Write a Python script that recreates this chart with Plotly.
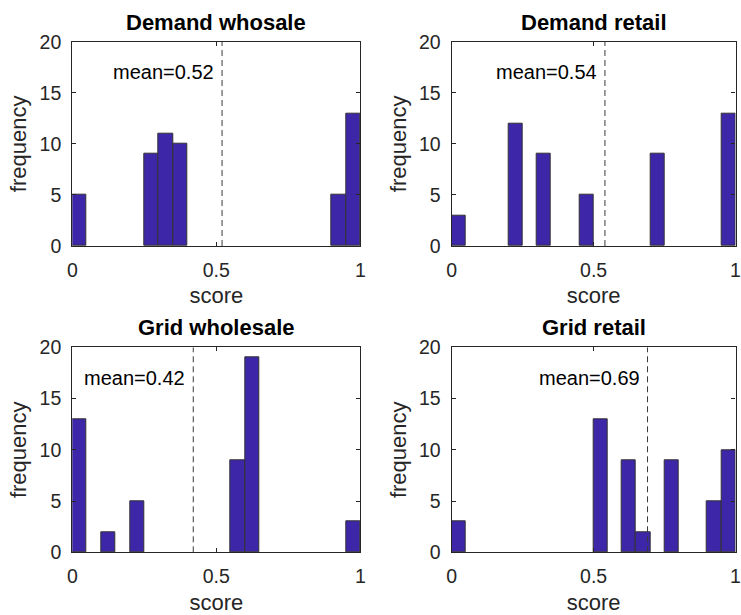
import numpy as np
import plotly.graph_objects as go

# Histogram counts per 0.05-wide score bin (20 bins from 0 to 1)
panel_titles = ["Demand whosale", "Demand retail", "Grid wholesale", "Grid retail"]

demand_wholesale = [5, 0, 0, 0, 0, 9, 11, 10, 0, 0, 0, 0, 0, 0, 0, 0, 0, 0, 5, 13]
demand_retail = [3, 0, 0, 0, 12, 0, 9, 0, 0, 5, 0, 0, 0, 0, 9, 0, 0, 0, 0, 13]
grid_wholesale = [13, 0, 2, 0, 5, 0, 0, 0, 0, 0, 0, 9, 19, 0, 0, 0, 0, 0, 0, 3]
grid_retail = [3, 0, 0, 0, 0, 0, 0, 0, 0, 0, 13, 0, 9, 2, 0, 9, 0, 0, 5, 10]

mean_scores = [0.52, 0.54, 0.42, 0.69]

x_tick_vals = [0, 0.5, 1]
x_tick_text = ["0", "0.5", "1"]
y_tick_vals = [0, 5, 10, 15, 20]

counts = [demand_wholesale, demand_retail, grid_wholesale, grid_retail]

W, H = 741, 615
BIN_W = 0.05
bin_centers = np.arange(20) * BIN_W + BIN_W / 2

BAR_COLOR = "rgb(62,38,168)"
AX_COLOR = "#262626"
FONT = "Liberation Sans, Arial, sans-serif"

# axes rectangles in pixels: (left, right, top, bottom)
boxes = [
    (72.3, 360.3, 41.7, 246.0),
    (451.7, 735.5, 41.7, 246.0),
    (72.3, 360.3, 347.3, 552.3),
    (451.7, 735.5, 347.3, 552.3),
]

fig = go.Figure()
layout = dict(
    width=W, height=H,
    margin=dict(l=0, r=0, t=0, b=0),
    paper_bgcolor="white", plot_bgcolor="white",
    showlegend=False, bargap=0,
    font=dict(family=FONT, color=AX_COLOR, size=19),
)

annotations = []
shapes = []
for i in range(4):
    k = "" if i == 0 else str(i + 1)
    xa, ya = "x" + k, "y" + k
    left, right, top, bottom = boxes[i]
    # empty bins are left undrawn so no edge outline sits on the baseline
    heights = [c if c > 0 else None for c in counts[i]]
    fig.add_trace(go.Bar(
        x=bin_centers, y=heights, width=BIN_W,
        marker=dict(color=BAR_COLOR, line=dict(color="#333333", width=1)),
        xaxis=xa, yaxis=ya, hoverinfo="x+y",
    ))
    common = dict(
        showline=True, linecolor=AX_COLOR, linewidth=1.2, mirror="ticks",
        ticks="inside", ticklen=4, tickcolor=AX_COLOR, tickwidth=1,
        showgrid=False, zeroline=False, automargin=False,
        ticklabeloverflow="allow",
        tickfont=dict(family=FONT, size=19.5, color=AX_COLOR),
    )
    layout["xaxis" + k] = dict(
        common, domain=[left / W, right / W], range=[0, 1],
        tickvals=x_tick_vals, ticktext=x_tick_text, anchor=ya,
        ticklabelstandoff=6,
        title=dict(text="score", font=dict(family=FONT, size=22, color=AX_COLOR), standoff=8),
    )
    layout["yaxis" + k] = dict(
        common, domain=[1 - bottom / H, 1 - top / H], range=[0, 20],
        tickvals=y_tick_vals, anchor=xa,
        ticklabelstandoff=6,
        title=dict(text="frequency", font=dict(family=FONT, size=22, color=AX_COLOR), standoff=6),
    )
    # panel title
    annotations.append(dict(
        text="<b>" + panel_titles[i] + "</b>", xref=xa + " domain", yref=ya + " domain",
        x=0.5, y=1, xanchor="center", yanchor="bottom", yshift=5, showarrow=False,
        font=dict(family=FONT, size=22, color="black"),
    ))
    # mean marker line and label
    m = mean_scores[i]
    shapes.append(dict(
        type="line", xref=xa, yref=ya, x0=m, x1=m, y0=0, y1=20,
        line=dict(color="#3a3a3a", width=1, dash="6px,4px"),
    ))
    annotations.append(dict(
        text=f"mean={m:.2f}", xref=xa, yref=ya, x=m, y=17,
        xanchor="right", yanchor="middle", xshift=-6, showarrow=False,
        font=dict(family=FONT, size=20, color="black"),
    ))

layout["annotations"] = annotations
layout["shapes"] = shapes
fig.update_layout(**layout)
fig.write_html("out.html")
